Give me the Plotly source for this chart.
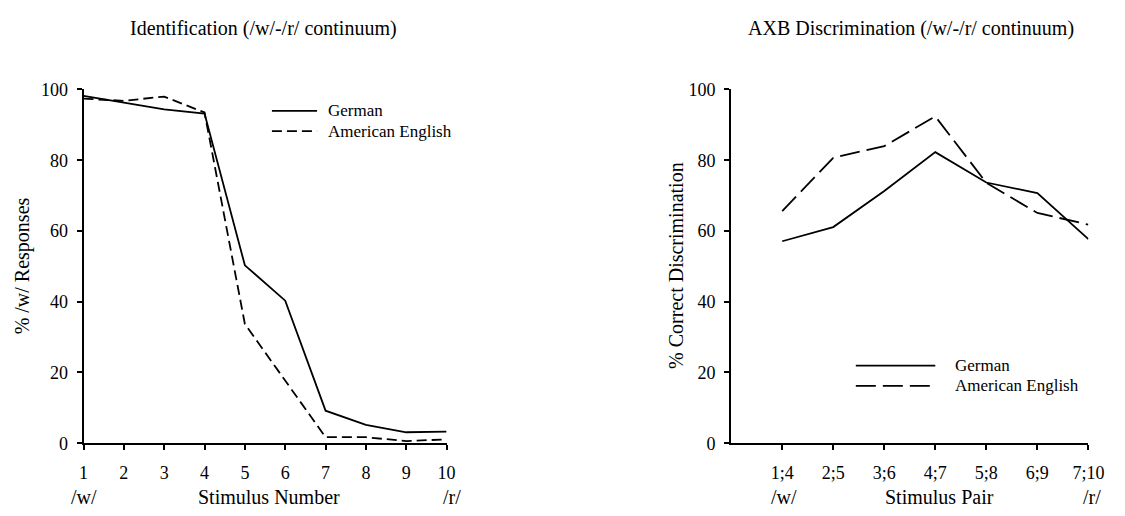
import plotly.graph_objects as go

# Identification task: % /w/ responses per stimulus on the /w/-/r/ continuum
stimulus = [1, 2, 3, 4, 5, 6, 7, 8, 9, 10]
id_german = [98.2, 96.2, 94.4, 93.2, 50.3, 40.3, 9.2, 5.2, 3.1, 3.3]
id_english = [97.4, 96.8, 98.0, 93.5, 33.7, 17.6, 1.7, 1.7, 0.6, 1.1]

# AXB discrimination task: % correct per stimulus pair
pairs = ["1;4", "2;5", "3;6", "4;7", "5;8", "6;9", "7;10"]
axb_german = [57.1, 61.1, 71.3, 82.3, 73.7, 70.7, 57.7]
axb_english = [65.6, 80.7, 84.0, 92.4, 73.6, 65.1, 61.8]

y_ticks = [0, 20, 40, 60, 80, 100]

W, H = 1125, 516
FONT = "Liberation Serif, Times New Roman, DejaVu Serif, serif"
FS = 20       # titles and axis titles
FS_TICK = 18  # tick labels
FS_LEG = 17   # legend text
LW = 1.8      # data line width


def px(x):
    return x / W


def py(y):
    return 1 - y / H


fig = go.Figure()

solid = dict(color="black", width=LW)
fig.add_trace(go.Scatter(x=stimulus, y=id_german, mode="lines", name="German",
                         line=solid, xaxis="x", yaxis="y", showlegend=False))
fig.add_trace(go.Scatter(x=stimulus, y=id_english, mode="lines", name="American English",
                         line=dict(color="black", width=LW, dash="10px,5px"),
                         xaxis="x", yaxis="y", showlegend=False))
fig.add_trace(go.Scatter(x=pairs, y=axb_german, mode="lines", name="German",
                         line=solid, xaxis="x2", yaxis="y2", showlegend=False))
fig.add_trace(go.Scatter(x=pairs, y=axb_english, mode="lines", name="American English",
                         line=dict(color="black", width=LW, dash="20px,7px"),
                         xaxis="x2", yaxis="y2", showlegend=False))

axis_common = dict(
    showline=True, linecolor="black", linewidth=2,
    ticks="outside", ticklen=5, tickwidth=1.5, tickcolor="black",
    showgrid=False, zeroline=False,
    tickfont=dict(family=FONT, size=FS_TICK, color="black"),
)

y_dom = [py(450.7), py(82.7)]

fig.update_layout(
    width=W, height=H,
    margin=dict(l=0, r=0, t=0, b=0),
    paper_bgcolor="white", plot_bgcolor="white",
    font=dict(family=FONT, size=FS, color="black"),
    xaxis=dict(domain=[px(80), px(450)], range=[1, 10], tickvals=stimulus,
               anchor="y", ticklabelstandoff=7, **axis_common),
    yaxis=dict(domain=y_dom, range=[0, 100], tickvals=y_ticks,
               anchor="x", ticklabelstandoff=5, **axis_common),
    xaxis2=dict(domain=[px(740), px(1104)], type="category", range=[-1, 6],
                anchor="y2", ticklabelstandoff=7, **axis_common),
    yaxis2=dict(domain=y_dom, range=[0, 100], tickvals=y_ticks,
                anchor="x2", ticklabelstandoff=5, **axis_common),
)

annotations = []


def label(text, x, y, angle=0, xanchor="center", size=FS):
    annotations.append(dict(text=text, x=px(x), y=py(y), xref="paper", yref="paper",
                            showarrow=False, textangle=angle, xanchor=xanchor,
                            yanchor="middle", borderpad=0,
                            font=dict(family=FONT, size=size, color="black")))


# Panel titles
label("Identification (/w/-/r/ continuum)", 263, 19)
label("AXB Discrimination (/w/-/r/ continuum)", 923, 19)

# Axis titles
label("% /w/ Responses", 18, 266, angle=-90)
label("% Correct Discrimination", 683, 266, angle=-90)
label("Stimulus Number", 269, 507)
label("Stimulus Pair", 952, 507)
label("/w/", 81, 507)
label("/r/", 455, 507)
label("/w/", 794, 507)
label("/r/", 1108, 507)

# Legends
shapes = []


def legend_entry(x0, x1, y, dash, text, tx):
    shapes.append(dict(type="line", xref="paper", yref="paper",
                       x0=px(x0), x1=px(x1), y0=py(y), y1=py(y),
                       line=dict(color="black", width=LW, dash=dash)))
    label(text, tx, y, xanchor="left", size=FS_LEG)


legend_entry(272, 318, 105, "solid", "German", 328)
legend_entry(272, 318, 126, "10px,5px", "American English", 328)
legend_entry(867, 948, 370, "solid", "German", 967)
legend_entry(867, 948, 391, "20px,7px", "American English", 967)

fig.update_layout(annotations=annotations, shapes=shapes)

fig.write_html("out.html")
